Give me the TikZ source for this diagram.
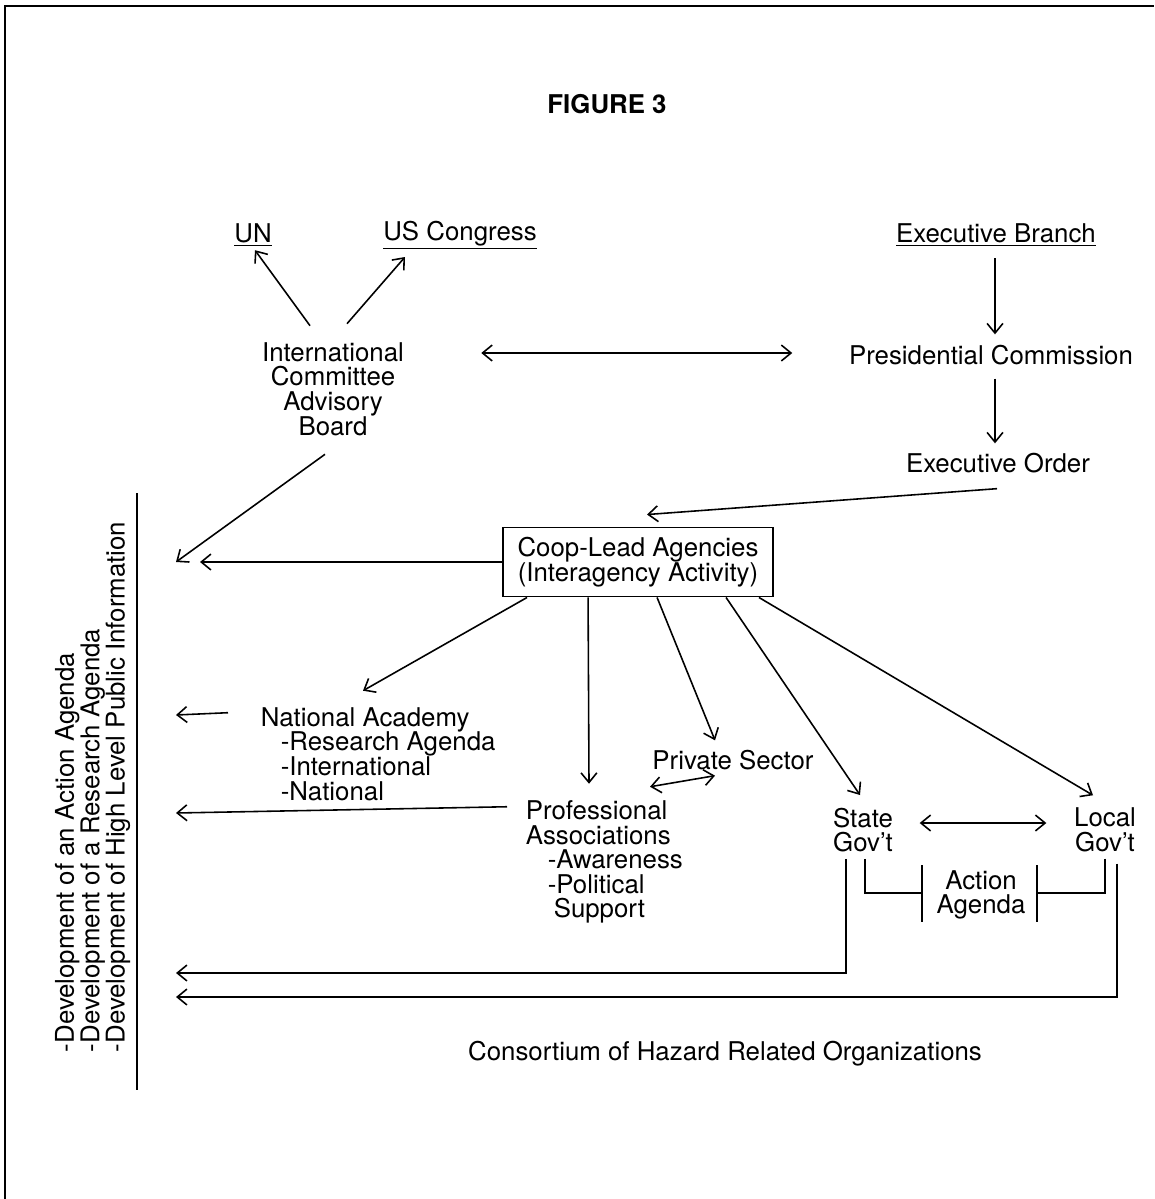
\documentclass[tikz,border=0pt]{standalone}
\usepackage{fontspec}
\setmainfont{TeX Gyre Heros}
\usetikzlibrary{arrows.meta,calc}
\begin{document}
\begin{tikzpicture}[x=0.02cm,y=-0.02cm, line width=0.9pt,
  txt/.style={font=\fontsize{14.7}{14}\selectfont, inner sep=0pt, align=center},
  arr/.style={-{Straight Barb[length=5.5pt,width=9pt]}},
  dbl/.style={{Straight Barb[length=5.5pt,width=9pt]}-{Straight Barb[length=5.5pt,width=9pt]}}]
\useasboundingbox (0,0) rectangle (1154,1199);
% frame
\draw[line width=1.3pt] (5,1199) -- (5,6) -- (1154,6);

% nodes
\node[txt, font=\fontsize{14.7}{14}\selectfont\bfseries] (fig) at (607,104) {FIGURE 3};
\node[txt] (un) at (253,235) {\underline{UN}};
\node[txt] (usc) at (460,235) {\underline{US Congress}};
\node[txt] (exb) at (996,235) {\underline{Executive Branch}};
\node[txt] (icab) at (333,389) {International\\Committee\\Advisory\\Board};
\node[txt] (pc) at (991,355) {Presidential Commission};
\node[txt] (eo) at (998,463) {Executive Order};
\node[txt, draw, line width=1.1pt, minimum width=5.4cm, minimum height=1.38cm] (coop) at (638,562) {Coop-Lead Agencies\\(Interagency Activity)};
\node[txt, align=left, anchor=west] (na) at (260,754) {National Academy\\\hspace*{0.4cm}-Research Agenda\\\hspace*{0.4cm}-International\\\hspace*{0.4cm}-National};
\node[txt] (ps) at (733,760) {Private Sector};
\node[txt, align=left, anchor=west] (pa) at (525,862) {Professional\\Associations\\\hspace*{0.44cm}-Awareness\\\hspace*{0.44cm}-Political\\\hspace*{0.56cm}Support};
\node[txt] (sg) at (863,830) {State\\Gov't};
\node[txt] (lg) at (1105,830) {Local\\Gov't};
\node[txt] (aa) at (981,895) {Action\\Agenda};
\node[txt] (cons) at (725,1054) {Consortium of Hazard Related Organizations};
\node[txt, align=left, rotate=90, anchor=south west, font=\fontsize{14.7}{14.4}\selectfont] (dev) at (131,1053) {-Development of an Action Agenda\\-Development of a Research Agenda\\-Development of High Level Public Information};

% separator line
\draw (137,493) -- (137,1090);

% free ends on the left
\coordinate (t1) at (176,562);
\coordinate (t2) at (200,562);
\coordinate (t5) at (176,715);
\coordinate (t6) at (176,813);
\coordinate (t3) at (176,973);
\coordinate (t4) at (176,997);

% connectors
\draw[arr] ($(icab.north)+(-23,-16)$) -- ($(un.south)+(2,3)$);
\draw[arr] ($(icab.north)+(14,-18)$) -- ($(usc.south)+(-55,7)$);
\draw[dbl] ($(pc.west)+(-367,-2)$) -- ($(pc.west)+(-56,-2)$);
\draw[arr] ($(exb.south)+(-1,11)$) -- ($(pc.north)+(4,-10)$);
\draw[arr] ($(pc.south)+(4,13)$) -- ($(eo.north)+(-3,-9)$);
\draw[arr] ($(eo.south)+(-1,15)$) -- ($(coop.north)+(9,-12)$);
\draw[arr] ($(icab.south)+(-8,18)$) -- (t1);
\draw[arr] (coop.west) -- (t2);
\draw[arr] ($(coop.south west)+(25,0)$) -- ($(na.north west)+(103,-16)$);
\draw[arr] ($(coop.south west)+(86,0)$) -- ($(pa.north west)+(64,-16)$);
\draw[arr] ($(coop.south west)+(155,0)$) -- ($(ps.north)+(-18,-9)$);
\draw[arr] ($(coop.south west)+(224,0)$) -- ($(sg.north)+(-3,-12)$);
\draw[arr] ($(coop.south east)+(-15,0)$) -- ($(lg.north)+(-12,-12)$);
\draw[dbl] ($(pa.north west)+(125,-13)$) -- ($(ps.south)+(-18,5)$);
\draw[dbl] ($(sg.east)+(26,-7)$) -- ($(lg.west)+(-27,-7)$);
\draw[arr] ($(na.north west)+(-32,6)$) -- (t5);
\draw[arr] ($(pa.north west)+(-18,7)$) -- (t6);
% action agenda brackets
\draw ($(aa.west)+(-14,-30)$) -- ($(aa.west)+(-14,27)$);
\draw ($(aa.east)+(11,-30)$) -- ($(aa.east)+(11,27)$);
\draw ($(sg.south)+(2,6)$) |- ($(aa.west)+(-14,-2)$);
\draw ($(lg.south)+(0,6)$) |- ($(aa.east)+(11,-2)$);
\draw[arr] ($(sg.south)+(-17,6)$) |- (t3);
\draw[arr] ($(lg.south)+(12,11)$) |- (t4);
\end{tikzpicture}
\end{document}
